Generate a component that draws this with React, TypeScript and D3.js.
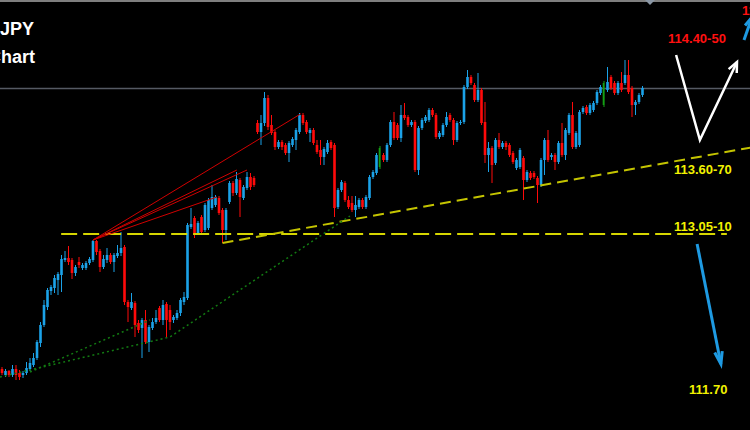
import * as d3 from 'd3';

// USDJPY H4 candles (price in yen)
const opens = [
  111.948, 111.900, 111.932, 111.900, 111.948, 111.916, 111.900, 111.916, 111.948, 111.980,
  112.036, 112.156, 112.300, 112.444, 112.572, 112.596, 112.660, 112.700, 112.820, 112.836,
  112.820, 112.716, 112.804, 112.756, 112.756, 112.796, 112.820, 112.972, 112.892, 112.764,
  112.820, 112.860, 112.804, 112.852, 112.876, 112.924, 112.484, 112.436, 112.476, 112.316,
  112.276, 112.340, 112.164, 112.276, 112.324, 112.436, 112.340, 112.468, 112.420, 112.340,
  112.356, 112.396, 112.484, 112.516, 113.084, 113.156, 113.036, 113.164, 113.060, 113.076,
  113.236, 113.260, 113.316, 113.220, 113.060, 113.284, 113.436, 113.356, 113.460, 113.316,
  113.396, 113.484, 113.476, 113.916, 113.844, 113.916, 114.116, 113.900, 113.844, 113.724,
  113.764, 113.740, 113.676, 113.740, 113.780, 113.844, 113.980, 113.924, 113.836, 113.860,
  113.740, 113.700, 113.644, 113.684, 113.764, 113.740, 113.244, 113.380, 113.436, 113.300,
  113.276, 113.220, 113.244, 113.300, 113.244, 113.316, 113.484, 113.516, 113.564, 113.660,
  113.620, 113.740, 113.924, 113.900, 113.796, 113.980, 113.964, 113.900, 113.924, 113.540,
  113.876, 113.932, 113.940, 114.020, 113.980, 113.804, 113.820, 113.900, 113.980, 113.940,
  113.780, 113.916, 113.924, 114.204, 114.284, 114.220, 114.100, 114.180, 113.924, 113.660,
  113.716, 113.596, 113.780, 113.724, 113.756, 113.740, 113.676, 113.556, 113.564, 113.636,
  113.460, 113.516, 113.516, 113.476, 113.420, 113.620, 113.780, 113.644, 113.660, 113.604,
  113.756, 113.660, 113.836, 113.980, 113.724, 113.740, 114.004, 114.044, 113.996, 114.020,
  114.076, 114.156, 114.060, 114.180, 114.284, 114.236, 114.156, 114.236, 114.236, 114.300,
  114.196, 114.060, 114.084, 114.140,
];
const highs = [
  111.964, 111.948, 111.940, 111.980, 111.980, 111.940, 111.932, 112.004, 112.036, 112.076,
  112.180, 112.324, 112.500, 112.596, 112.620, 112.700, 112.724, 112.860, 112.892, 112.932,
  112.836, 112.780, 112.844, 112.796, 112.812, 112.844, 112.980, 112.980, 112.908, 112.860,
  112.916, 112.876, 112.876, 112.940, 113.044, 112.940, 112.500, 112.556, 112.492, 112.340,
  112.356, 112.420, 112.300, 112.356, 112.420, 112.452, 112.500, 112.484, 112.460, 112.380,
  112.420, 112.516, 112.564, 113.116, 113.236, 113.172, 113.132, 113.180, 113.276, 113.316,
  113.420, 113.340, 113.332, 113.236, 113.236, 113.452, 113.452, 113.524, 113.476, 113.420,
  113.524, 113.516, 113.492, 113.940, 113.980, 114.164, 114.140, 113.980, 113.860, 113.780,
  113.780, 113.756, 113.772, 113.804, 113.876, 113.996, 113.996, 113.940, 113.876, 113.876,
  113.780, 113.780, 113.724, 113.780, 113.780, 113.756, 113.396, 113.460, 113.452, 113.332,
  113.332, 113.332, 113.316, 113.316, 113.340, 113.500, 113.540, 113.676, 113.732, 113.676,
  113.756, 113.940, 114.004, 113.916, 114.060, 114.076, 113.980, 113.940, 113.940, 113.892,
  113.956, 113.980, 114.036, 114.036, 113.996, 113.852, 113.916, 114.004, 113.996, 113.956,
  113.932, 113.940, 114.220, 114.340, 114.300, 114.236, 114.316, 114.196, 114.084, 113.764,
  113.732, 113.796, 113.836, 113.772, 113.772, 113.756, 113.692, 113.636, 113.716, 113.652,
  113.540, 113.532, 113.532, 113.492, 113.636, 113.796, 113.860, 113.676, 113.676, 113.772,
  113.916, 113.876, 113.996, 114.084, 113.852, 114.020, 114.052, 114.060, 114.076, 114.092,
  114.180, 114.220, 114.252, 114.364, 114.300, 114.252, 114.252, 114.324, 114.420, 114.420,
  114.212, 114.100, 114.156, 114.212,
];
const lows = [
  111.900, 111.884, 111.884, 111.884, 111.860, 111.860, 111.876, 111.900, 111.932, 111.964,
  112.020, 112.124, 112.284, 112.420, 112.540, 112.556, 112.540, 112.564, 112.804, 112.780,
  112.668, 112.692, 112.756, 112.740, 112.740, 112.780, 112.804, 112.860, 112.724, 112.748,
  112.796, 112.788, 112.724, 112.836, 112.852, 112.460, 112.324, 112.420, 112.204, 112.236,
  112.036, 112.148, 112.084, 112.260, 112.308, 112.324, 112.300, 112.196, 112.260, 112.316,
  112.340, 112.372, 112.460, 112.500, 113.068, 112.996, 113.020, 113.028, 113.044, 113.060,
  113.220, 113.244, 113.180, 112.956, 112.980, 113.268, 113.332, 113.340, 113.164, 113.300,
  113.380, 113.380, 113.404, 113.828, 113.740, 113.892, 113.860, 113.820, 113.700, 113.708,
  113.700, 113.660, 113.604, 113.724, 113.700, 113.828, 113.900, 113.828, 113.764, 113.740,
  113.668, 113.580, 113.580, 113.668, 113.700, 113.164, 113.228, 113.364, 113.284, 113.228,
  113.204, 113.164, 113.228, 113.228, 113.228, 113.300, 113.468, 113.500, 113.548, 113.604,
  113.604, 113.724, 113.780, 113.780, 113.764, 113.940, 113.884, 113.884, 113.524, 113.500,
  113.860, 113.916, 113.924, 113.964, 113.788, 113.788, 113.804, 113.884, 113.924, 113.740,
  113.764, 113.900, 113.908, 114.188, 114.220, 114.084, 114.084, 113.900, 113.596, 113.524,
  113.436, 113.580, 113.708, 113.708, 113.700, 113.644, 113.588, 113.540, 113.548, 113.300,
  113.444, 113.460, 113.468, 113.276, 113.404, 113.500, 113.604, 113.620, 113.540, 113.588,
  113.644, 113.620, 113.820, 113.708, 113.708, 113.724, 113.988, 113.980, 113.980, 114.004,
  114.060, 114.140, 114.044, 114.164, 114.180, 114.140, 114.140, 114.164, 114.220, 114.148,
  113.964, 113.980, 114.068, 114.124,
];
const closes = [
  111.916, 111.932, 111.900, 111.948, 111.900, 111.884, 111.916, 111.956, 111.996, 112.036,
  112.164, 112.300, 112.460, 112.580, 112.604, 112.676, 112.708, 112.828, 112.836, 112.804,
  112.716, 112.764, 112.780, 112.780, 112.796, 112.828, 112.972, 112.884, 112.764, 112.828,
  112.860, 112.804, 112.860, 112.876, 112.916, 112.484, 112.444, 112.484, 112.300, 112.260,
  112.340, 112.164, 112.284, 112.324, 112.356, 112.340, 112.460, 112.340, 112.324, 112.364,
  112.396, 112.500, 112.524, 113.100, 113.108, 113.020, 113.116, 113.044, 113.260, 113.300,
  113.324, 113.324, 113.196, 113.060, 113.220, 113.436, 113.356, 113.468, 113.324, 113.404,
  113.484, 113.404, 113.420, 113.844, 113.916, 114.116, 113.884, 113.836, 113.724, 113.764,
  113.724, 113.676, 113.756, 113.788, 113.860, 113.980, 113.916, 113.844, 113.860, 113.756,
  113.684, 113.644, 113.708, 113.756, 113.716, 113.236, 113.380, 113.444, 113.300, 113.244,
  113.220, 113.260, 113.300, 113.244, 113.324, 113.484, 113.524, 113.660, 113.716, 113.620,
  113.740, 113.924, 113.796, 113.796, 113.980, 113.956, 113.900, 113.924, 113.540, 113.876,
  113.940, 113.964, 114.020, 113.980, 113.804, 113.836, 113.900, 113.964, 113.940, 113.780,
  113.916, 113.924, 114.204, 114.284, 114.236, 114.100, 114.180, 113.916, 113.660, 113.716,
  113.580, 113.780, 113.724, 113.756, 113.724, 113.660, 113.604, 113.620, 113.700, 113.460,
  113.524, 113.476, 113.484, 113.420, 113.620, 113.780, 113.620, 113.660, 113.604, 113.756,
  113.660, 113.860, 113.980, 113.724, 113.836, 114.004, 114.036, 113.996, 114.060, 114.076,
  114.164, 114.204, 114.236, 114.244, 114.196, 114.156, 114.236, 114.180, 114.300, 114.164,
  114.060, 114.084, 114.140, 114.196,
];
// bars painted green on the chart
const greenBars = [108, 172];

// drawn objects: [bar index, price]
const currentPrice = 114.192;
const supportLevel = { from: 16.9, to: 207.1, price: 113.028 };
const trendLine = [[63, 112.956], [214, 113.72]];
const greenLine1 = [[8, 111.924], [42.3, 112.34]];
const greenLine2 = [[-0.6, 111.884], [48, 112.204], [99.4, 113.172]];
const fanOrigin = [26, 112.98];
const fanEnds = [[85.4, 113.99], [67.1, 113.54], [70, 113.54], [61.4, 113.324]];
const whiteArrow = [[192.6, 114.46], [199.4, 113.78], [210, 114.404]];
const blueDown = [[198.6, 112.948], [205.4, 111.988]];
const blueUp = [[212, 114.58], [214.3, 114.764]];
const labels = [
  { text: '114.40-50', i: 190.3, p: 114.556, color: '#ff1010' },
  { text: '113.60-70', i: 192, p: 113.508, color: '#f2f200' },
  { text: '113.05-10', i: 192, p: 113.05, color: '#f2f200' },
  { text: '111.70', i: 196.3, p: 111.748, color: '#f2f200' },
  { text: '115.00', i: 211.4, p: 114.78, color: '#ff1010' },
];

const W = 750;
const H = 430;
const BLUE = '#1ba2e8';
const RED = '#ff0a0a';
const GREEN = '#14a014';

function arrowHead(x1: number, y1: number, x2: number, y2: number, len = 11, ang = 0.42) {
  const a = Math.atan2(y2 - y1, x2 - x1);
  const b1 = [x2 - len * Math.cos(a - ang), y2 - len * Math.sin(a - ang)];
  const b2 = [x2 - len * Math.cos(a + ang), y2 - len * Math.sin(a + ang)];
  return `M${b1[0]},${b1[1]}L${x2},${y2}L${b2[0]},${b2[1]}`;
}

export default function App() {
  const x = d3.scaleLinear().domain([0, 183]).range([2, 642.5]);
  const y = d3.scaleLinear().domain([111.46, 114.9]).range([430, 0]);
  const bw = 2.6;
  const line = d3.line<number[]>().x((d) => x(d[0])).y((d) => y(d[1]));

  const wa = whiteArrow.map((d) => [x(d[0]), y(d[1])]);
  const bd = blueDown.map((d) => [x(d[0]), y(d[1])]);
  const bu = blueUp.map((d) => [x(d[0]), y(d[1])]);

  return (
    <svg width={W} height={H} style={{ position: 'absolute', left: 0, top: 0, display: 'block' }}>
      <rect width={W} height={H} fill="#000" />
      <line x1={0} x2={W} y1={1} y2={1} stroke="#a8a8a8" strokeWidth={1.5} />
      <path d="M645,0L655,0L650,5Z" fill="#8a96a4" />
      <line x1={0} x2={W} y1={y(currentPrice)} y2={y(currentPrice)} stroke="#555a63" strokeWidth={1.6} />

      {/* title, cut by the left edge as in the screenshot */}
      <g fontFamily="'Liberation Sans', Arial, sans-serif" fontWeight="bold" fontSize={18} fill="#fff" textAnchor="end">
        <text x={34} y={35}>USDJPY</text>
        <text x={35} y={63}>H4 Chart</text>
      </g>

      {/* candles */}
      {opens.map((o, i) => {
        const c = closes[i];
        const col = greenBars.includes(i) ? GREEN : c >= o ? BLUE : RED;
        const top = y(Math.max(o, c));
        const h = Math.max(1, Math.abs(y(o) - y(c)));
        const cx = x(i);
        return (
          <g key={i}>
            <line x1={cx} x2={cx} y1={y(highs[i])} y2={y(lows[i])} stroke={col} strokeWidth={1} />
            <rect x={cx - bw / 2} y={top} width={greenBars.includes(i) ? 1.6 : bw} height={h} fill={col} />
          </g>
        );
      })}

      {/* objects */}
      <line
        x1={x(supportLevel.from)} x2={x(supportLevel.to)}
        y1={y(supportLevel.price)} y2={y(supportLevel.price)}
        stroke="#d6d600" strokeWidth={2} strokeDasharray="16,6"
      />
      <path d={line(trendLine) ?? ''} fill="none" stroke="#c4c400" strokeWidth={2} strokeDasharray="11,6" />
      <path d={line(greenLine1) ?? ''} fill="none" stroke="#127a12" strokeWidth={1.5} strokeDasharray="2,3" />
      <path d={line(greenLine2) ?? ''} fill="none" stroke="#127a12" strokeWidth={1.5} strokeDasharray="2,3" />
      {fanEnds.map((e, i) => (
        <line key={i} x1={x(fanOrigin[0])} y1={y(fanOrigin[1])} x2={x(e[0])} y2={y(e[1])} stroke="#d00000" strokeWidth={1} />
      ))}

      <path d={`M${wa.map((p) => p.join(',')).join('L')}`} fill="none" stroke="#fff" strokeWidth={2.5} strokeLinejoin="miter" />
      <path d={arrowHead(wa[1][0], wa[1][1], wa[2][0], wa[2][1])} fill="none" stroke="#fff" strokeWidth={2.5} />
      <line x1={bd[0][0]} y1={bd[0][1]} x2={bd[1][0]} y2={bd[1][1]} stroke="#1e9ae2" strokeWidth={3} />
      <path d={arrowHead(bd[0][0], bd[0][1], bd[1][0], bd[1][1], 13, 0.3)} fill="none" stroke="#1e9ae2" strokeWidth={3} />
      <line x1={bu[0][0]} y1={bu[0][1]} x2={bu[1][0]} y2={bu[1][1]} stroke="#1e9ae2" strokeWidth={3} />
      <path d={arrowHead(bu[0][0], bu[0][1], bu[1][0], bu[1][1], 11, 0.35)} fill="none" stroke="#1e9ae2" strokeWidth={3} />

      <g fontFamily="'Liberation Sans', Arial, sans-serif" fontWeight="bold" fontSize={13}>
        {labels.map((l) => (
          <text key={l.text} x={x(l.i)} y={y(l.p)} fill={l.color}>{l.text}</text>
        ))}
      </g>
    </svg>
  );
}
